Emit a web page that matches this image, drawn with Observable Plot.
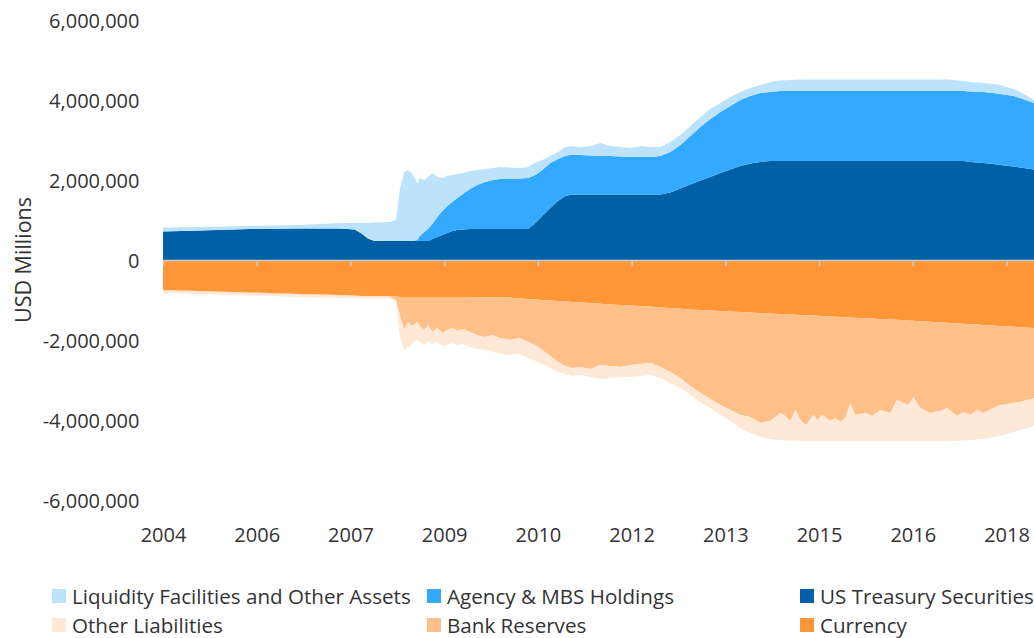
<!DOCTYPE html>
<html>
<head>
<meta charset="utf-8">
<script src="https://cdn.jsdelivr.net/npm/d3@7"></script>
<script src="https://cdn.jsdelivr.net/npm/@observablehq/plot@0.6"></script>
<style>
  html, body { margin: 0; padding: 0; background: #fff; }
  #wrap { position: relative; width: 1034px; height: 638px; font-family: "Open Sans", sans-serif; color: #333; overflow: hidden; }
  #chart { position: absolute; left: 0; top: 0; }
  #ytitle { position: absolute; left: 22px; top: 260px; transform: translate(-50%, -50%) rotate(-90deg); font-size: 21.5px; white-space: nowrap; color: #333; }
  .lg { position: absolute; display: flex; align-items: center; font-size: 20.6px; line-height: 22px; height: 22px; white-space: nowrap; color: #333; }
  .lg .sw { width: 14px; height: 14px; margin-right: 6px; flex: none; }
</style>
</head>
<body>
<div id="wrap">
  <div id="chart"></div>
  <div id="ytitle">USD Millions</div>
  <div id="legend"></div>
</div>
<script>
// Dates (decimal years)
const years = [
  2004.50, 2005.09, 2005.89, 2006.69, 2007.33, 2007.57, 2007.69, 2007.78, 2007.89, 2008.13,
  2008.23, 2008.29, 2008.36, 2008.42, 2008.49, 2008.57, 2008.61, 2008.68, 2008.74, 2008.81,
  2008.89, 2008.97, 2009.05, 2009.13, 2009.21, 2009.30, 2009.41, 2009.53, 2009.65, 2009.78,
  2009.89, 2010.05, 2010.21, 2010.34, 2010.46, 2010.57, 2010.70, 2010.82, 2010.94, 2011.05,
  2011.18, 2011.34, 2011.50, 2011.66, 2011.82, 2011.98, 2012.14, 2012.30, 2012.46, 2012.62,
  2012.78, 2012.94, 2013.10, 2013.26, 2013.42, 2013.58, 2013.74, 2013.90, 2014.06, 2014.22,
  2014.38, 2014.46, 2014.54, 2014.62, 2014.70, 2014.79, 2014.91, 2014.97, 2015.05, 2015.18,
  2015.26, 2015.34, 2015.42, 2015.50, 2015.58, 2015.74, 2015.85, 2015.98, 2016.14, 2016.25,
  2016.35, 2016.43, 2016.51, 2016.62, 2016.78, 2016.94, 2017.05, 2017.21, 2017.31, 2017.42,
  2017.53, 2017.63, 2017.79, 2017.90, 2018.11, 2018.22, 2018.44
];

// Assets (USD millions)
const treasury = [
  712500, 737500, 775000, 787500, 787500, 762500, 650000, 537500, 475000, 475000,
  475000, 475000, 475000, 475000, 475000, 475000, 475000, 475000, 475000, 525000,
  575000, 625000, 675000, 725000, 750000, 762500, 775000, 775000, 775000, 775000,
  775000, 775000, 775000, 775000, 925000, 1100000, 1300000, 1475000, 1600000, 1637500,
  1637500, 1637500, 1637500, 1637500, 1637500, 1637500, 1637500, 1637500, 1637500, 1687500,
  1787500, 1887500, 1987500, 2075000, 2175000, 2262500, 2350000, 2412500, 2450000, 2475000,
  2475000, 2475000, 2475000, 2475000, 2475000, 2475000, 2475000, 2475000, 2475000, 2475000,
  2475000, 2475000, 2475000, 2475000, 2475000, 2475000, 2475000, 2475000, 2475000, 2475000,
  2475000, 2475000, 2475000, 2475000, 2475000, 2475000, 2475000, 2475000, 2475000, 2450000,
  2437500, 2425000, 2400000, 2375000, 2337500, 2312500, 2262500
];
const agency = [
  0, 0, 0, 0, 0, 0, 0, 0, 0, 0,
  0, 0, 0, 0, 0, 25000, 125000, 225000, 300000, 375000,
  500000, 600000, 675000, 725000, 800000, 887500, 1000000, 1100000, 1175000, 1225000,
  1250000, 1250000, 1262500, 1275000, 1200000, 1150000, 1125000, 1050000, 1000000, 1000000,
  987500, 975000, 962500, 962500, 950000, 937500, 937500, 937500, 962500, 1012500,
  1087500, 1212500, 1337500, 1450000, 1525000, 1587500, 1650000, 1687500, 1725000, 1725000,
  1750000, 1750000, 1750000, 1750000, 1750000, 1750000, 1750000, 1750000, 1750000, 1750000,
  1750000, 1750000, 1750000, 1750000, 1750000, 1750000, 1750000, 1750000, 1750000, 1750000,
  1750000, 1750000, 1750000, 1750000, 1750000, 1750000, 1750000, 1750000, 1750000, 1762500,
  1770000, 1775000, 1775000, 1775000, 1762500, 1737500, 1662500
];
const liquidity = [
  100000, 87500, 75000, 87500, 137500, 162500, 275000, 387500, 462500, 475000,
  525000, 1275000, 1725000, 1775000, 1675000, 1425000, 1450000, 1300000, 1300000, 1275000,
  1000000, 825000, 750000, 675000, 600000, 525000, 450000, 375000, 325000, 300000,
  300000, 287500, 262500, 275000, 300000, 250000, 175000, 175000, 225000, 212500,
  200000, 237500, 325000, 250000, 237500, 225000, 275000, 250000, 225000, 250000,
  250000, 250000, 250000, 250000, 225000, 225000, 200000, 200000, 200000, 250000,
  262500, 270000, 275000, 280000, 287500, 287500, 287500, 287500, 287500, 287500,
  287500, 287500, 287500, 287500, 287500, 287500, 287500, 287500, 287500, 287500,
  287500, 287500, 287500, 287500, 287500, 287500, 287500, 262500, 250000, 237500,
  230000, 225000, 225000, 225000, 175000, 150000, 75000
];

// Liabilities (USD millions, negative)
const currency = [
  -750000, -775000, -812500, -850000, -875000, -887500, -900000, -900000, -900000, -900000,
  -912500, -925000, -925000, -925000, -925000, -925000, -925000, -925000, -925000, -925000,
  -925000, -925000, -925000, -925000, -925000, -925000, -925000, -937500, -937500, -937500,
  -937500, -937500, -962500, -975000, -987500, -1000000, -1012500, -1025000, -1037500, -1050000,
  -1062500, -1075000, -1095000, -1112500, -1125000, -1137500, -1150000, -1162500, -1187500, -1200000,
  -1220000, -1235000, -1250000, -1262500, -1275000, -1287500, -1300000, -1312500, -1325000, -1337500,
  -1350000, -1357500, -1362500, -1370000, -1375000, -1382500, -1390000, -1395000, -1400000, -1412500,
  -1420000, -1425000, -1432500, -1437500, -1445000, -1457500, -1465000, -1475000, -1487500, -1495000,
  -1505000, -1512500, -1520000, -1530000, -1545000, -1560000, -1570000, -1585000, -1595000, -1605000,
  -1615000, -1625000, -1640000, -1650000, -1670000, -1680000, -1700000
];
const reserves = [
  -15000, -15000, -15000, -15000, -15000, -15000, -15000, -15000, -15000, -15000,
  -87500, -450000, -825000, -625000, -725000, -625000, -725000, -825000, -700000, -875000,
  -775000, -900000, -825000, -775000, -850000, -800000, -875000, -937500, -987500, -937500,
  -1012500, -1062500, -987500, -1075000, -1137500, -1250000, -1387500, -1525000, -1612500, -1650000,
  -1612500, -1650000, -1530000, -1537500, -1550000, -1487500, -1450000, -1412500, -1487500, -1600000,
  -1730000, -1915000, -2075000, -2212500, -2350000, -2462500, -2575000, -2612500, -2750000, -2687500,
  -2475000, -2542500, -2662500, -2380000, -2625000, -2742500, -2485000, -2605000, -2475000, -2612500,
  -2530000, -2625000, -2517500, -2137500, -2430000, -2367500, -2435000, -2275000, -2337500, -2005000,
  -2070000, -2112500, -1905000, -2170000, -2280000, -2215000, -2130000, -2315000, -2205000, -2270000,
  -2135000, -2200000, -2060000, -1975000, -1905000, -1870000, -1750000
];
const otherLiab = [
  -60000, -60000, -60000, -60000, -60000, -47500, -47500, -47500, -47500, -47500,
  -50000, -500000, -500000, -625000, -450000, -450000, -400000, -375000, -400000, -300000,
  -350000, -325000, -375000, -375000, -350000, -375000, -375000, -350000, -325000, -425000,
  -400000, -375000, -400000, -400000, -400000, -350000, -300000, -250000, -200000, -200000,
  -200000, -200000, -350000, -300000, -250000, -300000, -300000, -300000, -275000, -275000,
  -250000, -225000, -225000, -225000, -250000, -275000, -325000, -400000, -350000, -450000,
  -675000, -612500, -487500, -762500, -525000, -400000, -650000, -525000, -650000, -500000,
  -575000, -475000, -575000, -950000, -650000, -700000, -625000, -775000, -700000, -1025000,
  -950000, -900000, -1100000, -825000, -700000, -750000, -825000, -625000, -712500, -625000,
  -737500, -650000, -725000, -775000, -725000, -700000, -700000
];

const seriesNames = [
  "US Treasury Securities", "Agency & MBS Holdings", "Liquidity Facilities and Other Assets",
  "Currency", "Bank Reserves", "Other Liabilities"
];
const seriesValues = [treasury, agency, liquidity, currency, reserves, otherLiab];
const seriesColors = ["#0060a6", "#33aaff", "#bde3fc", "#ff9637", "#ffbf88", "#ffe8d6"];

const xTickValues = [2004.5, 2006, 2007.5, 2009, 2010.5, 2012, 2013.5, 2015, 2016.5, 2018];
const xTickLabels = ["2004", "2006", "2007", "2009", "2010", "2012", "2013", "2015", "2016", "2018"];
const yTickValues = [-6000000, -4000000, -2000000, 0, 2000000, 4000000, 6000000];

const legendOrder = [
  ["Liquidity Facilities and Other Assets", 52, 585],
  ["Agency & MBS Holdings", 427, 585],
  ["US Treasury Securities", 800, 585],
  ["Other Liabilities", 52, 614],
  ["Bank Reserves", 427, 614],
  ["Currency", 800, 614]
];

const table = [];
seriesNames.forEach((name, s) => {
  years.forEach((yr, i) => table.push({year: yr, series: name, value: seriesValues[s][i]}));
});

const chart = Plot.plot({
  width: 1034,
  height: 560,
  marginLeft: 163,
  marginRight: 0,
  marginTop: 20,
  marginBottom: 60,
  style: {fontFamily: "'Open Sans', sans-serif", fontSize: "20px", color: "#333", background: "transparent", overflow: "visible"},
  x: {domain: [2004.5, 2018.44]},
  y: {domain: [-6000000, 6000000]},
  color: {domain: seriesNames, range: seriesColors},
  marks: [
    Plot.areaY(table, {x: "year", y: "value", fill: "series", z: "series"}),
    Plot.ruleY([0], {stroke: "#cccccc", strokeWidth: 1.5}),
    Plot.axisX(xTickValues, {tickSize: 6, text: null, stroke: "#cccccc", strokeWidth: 1.5, dy: -240, label: null}),
    Plot.axisX(xTickValues, {tickSize: 0, tickPadding: 27, tickFormat: d => xTickLabels[xTickValues.indexOf(d)], label: null, fill: "#333"}),
    Plot.axisY(yTickValues, {tickSize: 0, tickPadding: 24, tickFormat: d => d.toLocaleString("en-US"), label: null, fill: "#333", dy: 1})
  ]
});
document.getElementById("chart").appendChild(chart);

const legend = document.getElementById("legend");
legendOrder.forEach(([name, left, top]) => {
  const item = document.createElement("div");
  item.className = "lg";
  item.style.left = left + "px";
  item.style.top = top + "px";
  const sw = document.createElement("span");
  sw.className = "sw";
  sw.style.background = seriesColors[seriesNames.indexOf(name)];
  const t = document.createElement("span");
  t.textContent = name;
  item.appendChild(sw);
  item.appendChild(t);
  legend.appendChild(item);
});
</script>
</body>
</html>
